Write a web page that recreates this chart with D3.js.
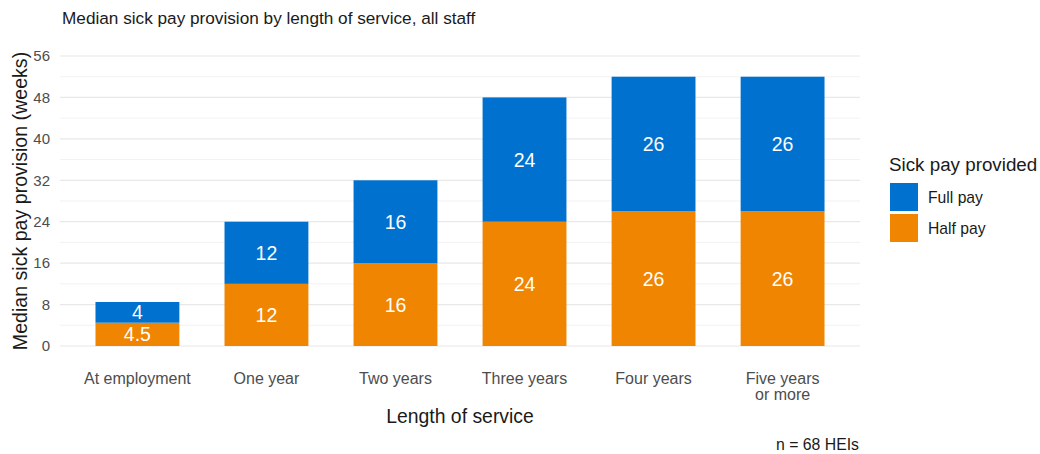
<!DOCTYPE html>
<html>
<head>
<meta charset="utf-8">
<script src="https://cdn.jsdelivr.net/npm/d3@7"></script>
<style>
  html, body { margin: 0; padding: 0; background: #ffffff; }
  svg { display: block; font-family: "Liberation Sans", Arial, sans-serif; }
</style>
</head>
<body>
<svg id="chart" width="1040" height="454"></svg>
<script>
// Median weeks of sick pay by length of service
const categories = ["At employment", "One year", "Two years", "Three years", "Four years", "Five years\nor more"];
const halfPay = [4.5, 12, 16, 24, 26, 26];
const fullPay = [4, 12, 16, 24, 26, 26];
const seriesNames = ["Full pay", "Half pay"];
const seriesColors = ["#0071ce", "#ef8500"];
const yTicks = [0, 8, 16, 24, 32, 40, 48, 56];
const yMinorTicks = [4, 12, 20, 28, 36, 44, 52];

const svg = d3.select("#chart");
const plot = { left: 60, right: 860, top: 56, bottom: 346 };

// Discrete x positions with 0.6 category units of padding on each side
const x = d3.scalePoint()
  .domain(categories)
  .range([plot.left, plot.right])
  .padding(0.6);
const barW = x.step() * 0.65;

const y = d3.scaleLinear().domain([0, 56]).range([plot.bottom, plot.top]);

// Grid lines
const grid = svg.append("g");
grid.selectAll("line.minor").data(yMinorTicks).join("line")
  .attr("class", "minor")
  .attr("x1", plot.left).attr("x2", plot.right)
  .attr("y1", d => y(d)).attr("y2", d => y(d))
  .attr("stroke", "#efefef").attr("stroke-width", 0.8);
grid.selectAll("line.major").data(yTicks).join("line")
  .attr("class", "major")
  .attr("x1", plot.left).attr("x2", plot.right)
  .attr("y1", d => y(d)).attr("y2", d => y(d))
  .attr("stroke", "#e8e8e8").attr("stroke-width", 1.2);

// Stacked data: half pay at the bottom, full pay on top
const rows = categories.map((c, i) => ({ cat: c, half: halfPay[i], full: fullPay[i] }));
const stack = d3.stack().keys(["half", "full"])(rows);
const colorFor = { half: seriesColors[1], full: seriesColors[0] };

const bars = svg.append("g");
stack.forEach(layer => {
  const g = bars.append("g");
  g.selectAll("rect").data(layer).join("rect")
    .attr("x", d => x(d.data.cat) - barW / 2)
    .attr("width", barW)
    .attr("y", d => y(d[1]))
    .attr("height", d => y(d[0]) - y(d[1]))
    .attr("fill", colorFor[layer.key]);
  g.selectAll("text").data(layer).join("text")
    .attr("x", d => x(d.data.cat))
    .attr("y", d => (y(d[0]) + y(d[1])) / 2)
    .attr("dy", "0.36em")
    .attr("text-anchor", "middle")
    .attr("fill", "#ffffff")
    .attr("font-size", 19.5)
    .text(d => d.data[layer.key]);
});

// Y axis tick labels
const yAxis = svg.append("g")
  .attr("transform", `translate(${plot.left},0)`)
  .call(d3.axisLeft(y).tickValues(yTicks).tickSize(0).tickPadding(10));
yAxis.select(".domain").remove();
yAxis.selectAll("text").attr("font-size", 15).attr("fill", "#4d4d4d")
  .attr("font-family", "Liberation Sans, Arial, sans-serif");

// X axis tick labels (multi-line)
const xLabels = svg.append("g");
categories.forEach(c => {
  const t = xLabels.append("text")
    .attr("x", x(c)).attr("y", 384)
    .attr("text-anchor", "middle")
    .attr("font-size", 16).attr("fill", "#4d4d4d");
  c.split("\n").forEach((line, i) => {
    t.append("tspan").attr("x", x(c)).attr("dy", i === 0 ? 0 : 16).text(line);
  });
});

// Titles
svg.append("text").attr("x", 62).attr("y", 24)
  .attr("font-size", 17.2).attr("fill", "#1a1a1a")
  .text("Median sick pay provision by length of service, all staff");

svg.append("text")
  .attr("transform", `translate(27,${(plot.top + plot.bottom) / 2}) rotate(-90)`)
  .attr("text-anchor", "middle")
  .attr("font-size", 19.6).attr("fill", "#1a1a1a")
  .text("Median sick pay provision (weeks)");

svg.append("text")
  .attr("x", (plot.left + plot.right) / 2).attr("y", 423)
  .attr("text-anchor", "middle")
  .attr("font-size", 19.4).attr("fill", "#1a1a1a")
  .text("Length of service");

svg.append("text")
  .attr("x", plot.right - 1).attr("y", 450)
  .attr("text-anchor", "end")
  .attr("font-size", 15.8).attr("fill", "#1a1a1a")
  .text("n = 68 HEIs");

// Legend
const legend = svg.append("g").attr("transform", "translate(889,0)");
legend.append("text").attr("x", 0).attr("y", 171)
  .attr("font-size", 18.8).attr("fill", "#1a1a1a")
  .text("Sick pay provided");
seriesNames.forEach((name, i) => {
  const top = 183 + i * 31;
  legend.append("rect").attr("x", 1).attr("y", top)
    .attr("width", 28).attr("height", 28)
    .attr("fill", seriesColors[i]);
  legend.append("text").attr("x", 39).attr("y", top + 14).attr("dy", "0.36em")
    .attr("font-size", 15.7).attr("fill", "#1a1a1a")
    .text(name);
});
</script>
</body>
</html>
